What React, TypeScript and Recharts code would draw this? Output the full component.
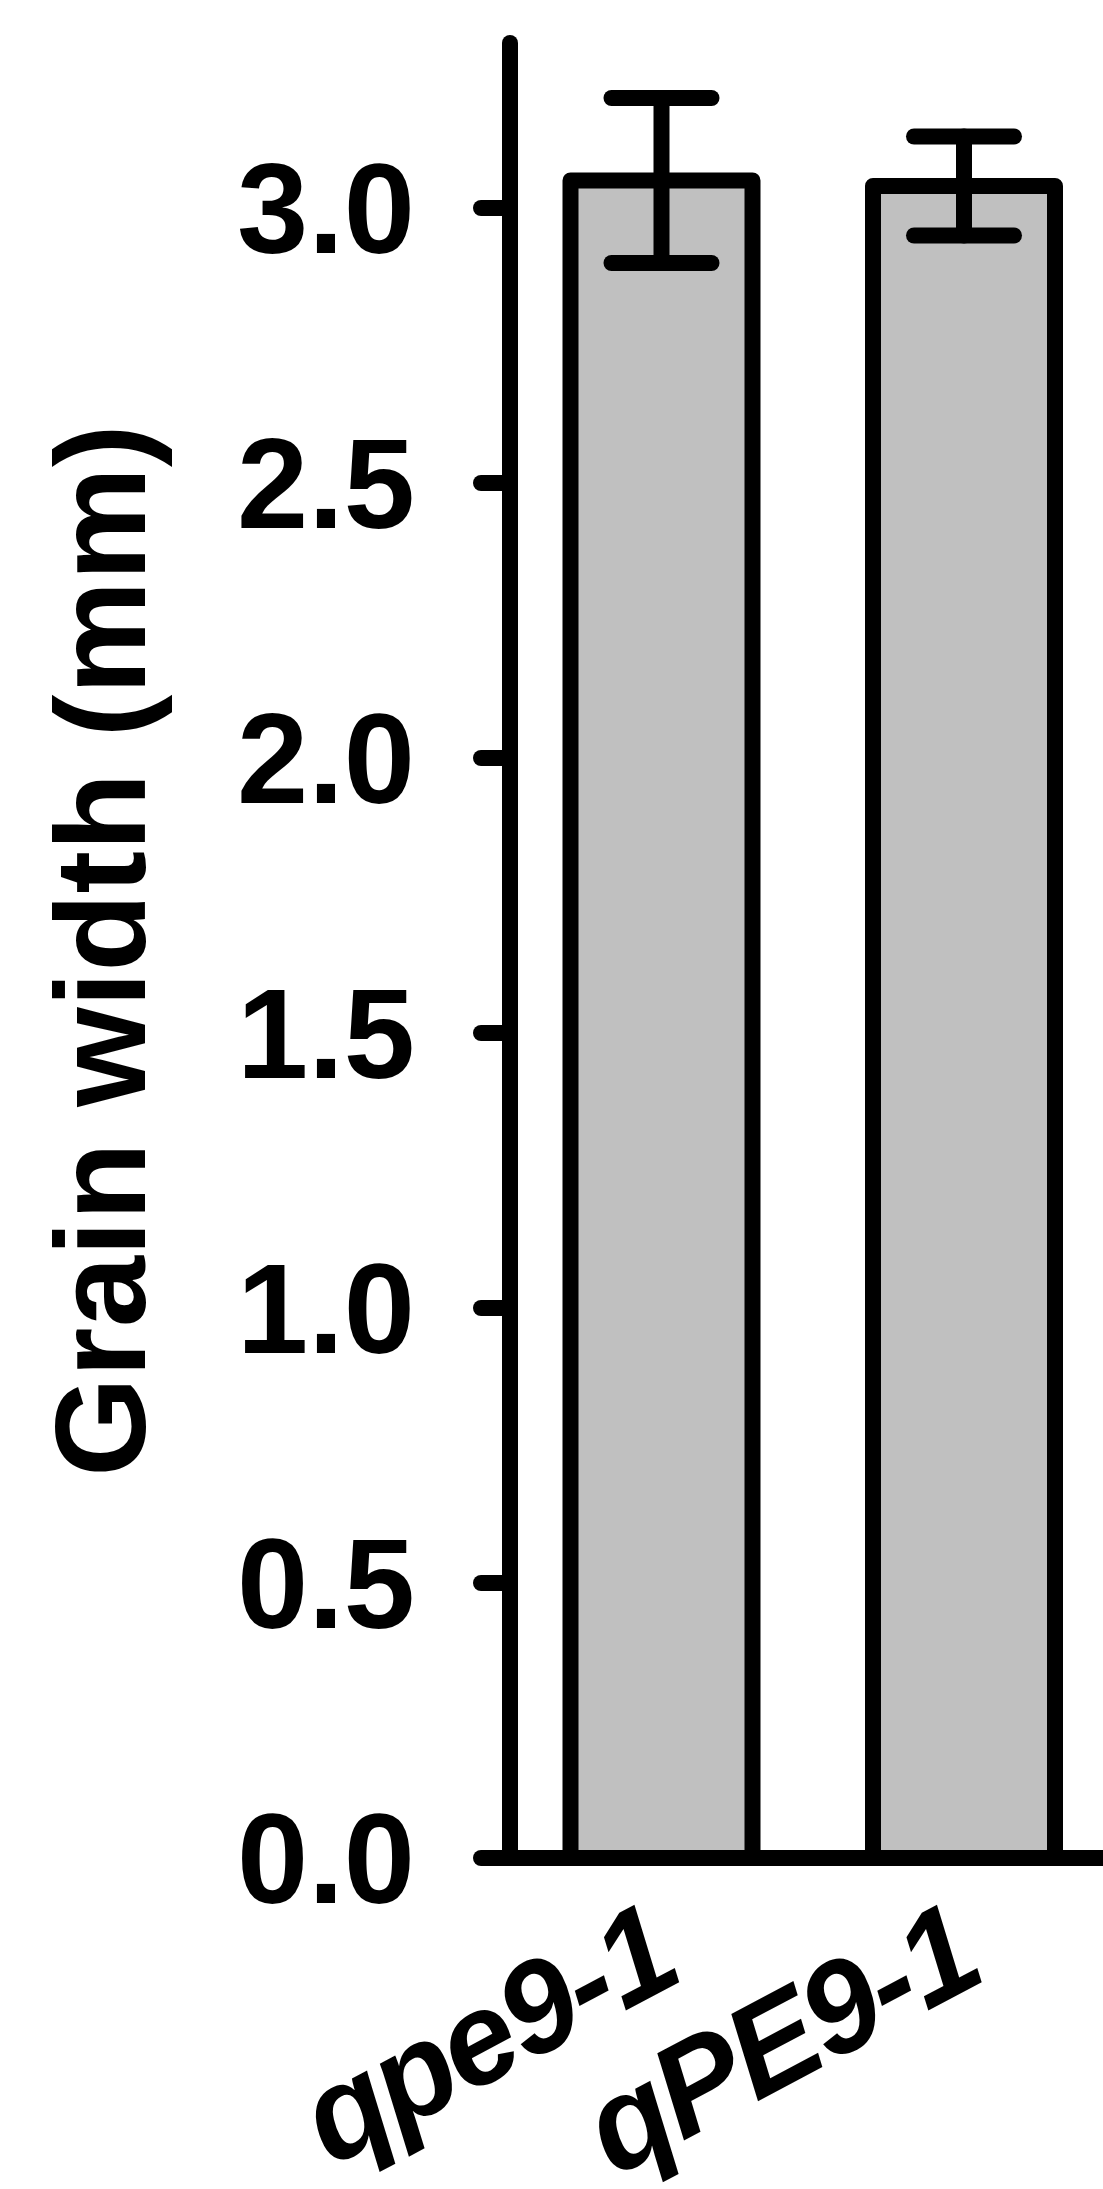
import React from 'react';
import { BarChart, Bar, XAxis, YAxis, ErrorBar } from 'recharts';

const categories = ['qpe9-1', 'qPE9-1'];
const means = [3.05, 3.04];
const errors = [0.15, 0.09];
const yTicks = [0, 0.5, 1.0, 1.5, 2.0, 2.5, 3.0];

const data = categories.map((name, i) => ({ name, value: means[i], err: errors[i] }));

const FONT = '"Liberation Sans", Arial, Helvetica, sans-serif';
const LINE = 16;

const XTick = (props: any) => {
  const { x, y, payload } = props;
  const ax = x + 24;
  const ay = y + 121;
  return (
    <text
      x={ax}
      y={ay}
      transform={`rotate(-28, ${ax}, ${ay})`}
      textAnchor="end"
      fontFamily={FONT}
      fontWeight="bold"
      fontStyle="italic"
      fontSize={130}
      letterSpacing={-3}
      fill="#000"
    >
      {payload.value}
    </text>
  );
};

const YLabel = (props: any) => {
  const { viewBox } = props;
  const cx = 145;
  const cy = viewBox.y + viewBox.height / 2;
  return (
    <text
      x={cx}
      y={cy}
      transform={`rotate(-90, ${cx}, ${cy})`}
      textAnchor="middle"
      fontFamily={FONT}
      fontWeight="bold"
      fontSize={128}
      fill="#000"
    >
      Grain width (mm)
    </text>
  );
};

export default function App() {
  return (
    <div
      style={{
        position: 'absolute',
        left: 0,
        top: 0,
        width: 1103,
        height: 2189,
        overflow: 'hidden',
        background: '#fff',
      }}
    >
      <BarChart
        width={1115}
        height={2189}
        data={data}
        margin={{ top: 43, right: 0, bottom: 0, left: 0 }}
        barCategoryGap="20%"
      >
        <XAxis
          dataKey="name"
          height={331}
          tickLine={false}
          tickSize={0}
          tickMargin={0}
          stroke="#000"
          strokeWidth={LINE}
          axisLine={{ stroke: '#000', strokeWidth: LINE, strokeLinecap: 'round' }}
          tick={<XTick />}
          interval={0}
        />
        <YAxis
          width={510}
          domain={[0, 3.3]}
          ticks={yTicks}
          interval={0}
          tickFormatter={(v: number) => v.toFixed(1)}
          tickSize={29}
          tickMargin={66}
          stroke="#000"
          strokeWidth={LINE}
          axisLine={{ stroke: '#000', strokeWidth: LINE, strokeLinecap: 'round' }}
          tickLine={{ stroke: '#000', strokeWidth: LINE, strokeLinecap: 'round' }}
          tick={{ fill: '#000', fontSize: 128, fontWeight: 'bold', fontFamily: FONT, strokeWidth: 0 }}
          label={<YLabel />}
        />
        <Bar
          dataKey="value"
          fill="#c0c0c0"
          stroke="#000"
          strokeWidth={LINE}
          strokeLinejoin="round"
          isAnimationActive={false}
        >
          <ErrorBar
            dataKey="err"
            direction="y"
            width={50}
            stroke="#000"
            strokeWidth={LINE}
            strokeLinecap="round"
            isAnimationActive={false}
          />
        </Bar>
      </BarChart>
    </div>
  );
}
